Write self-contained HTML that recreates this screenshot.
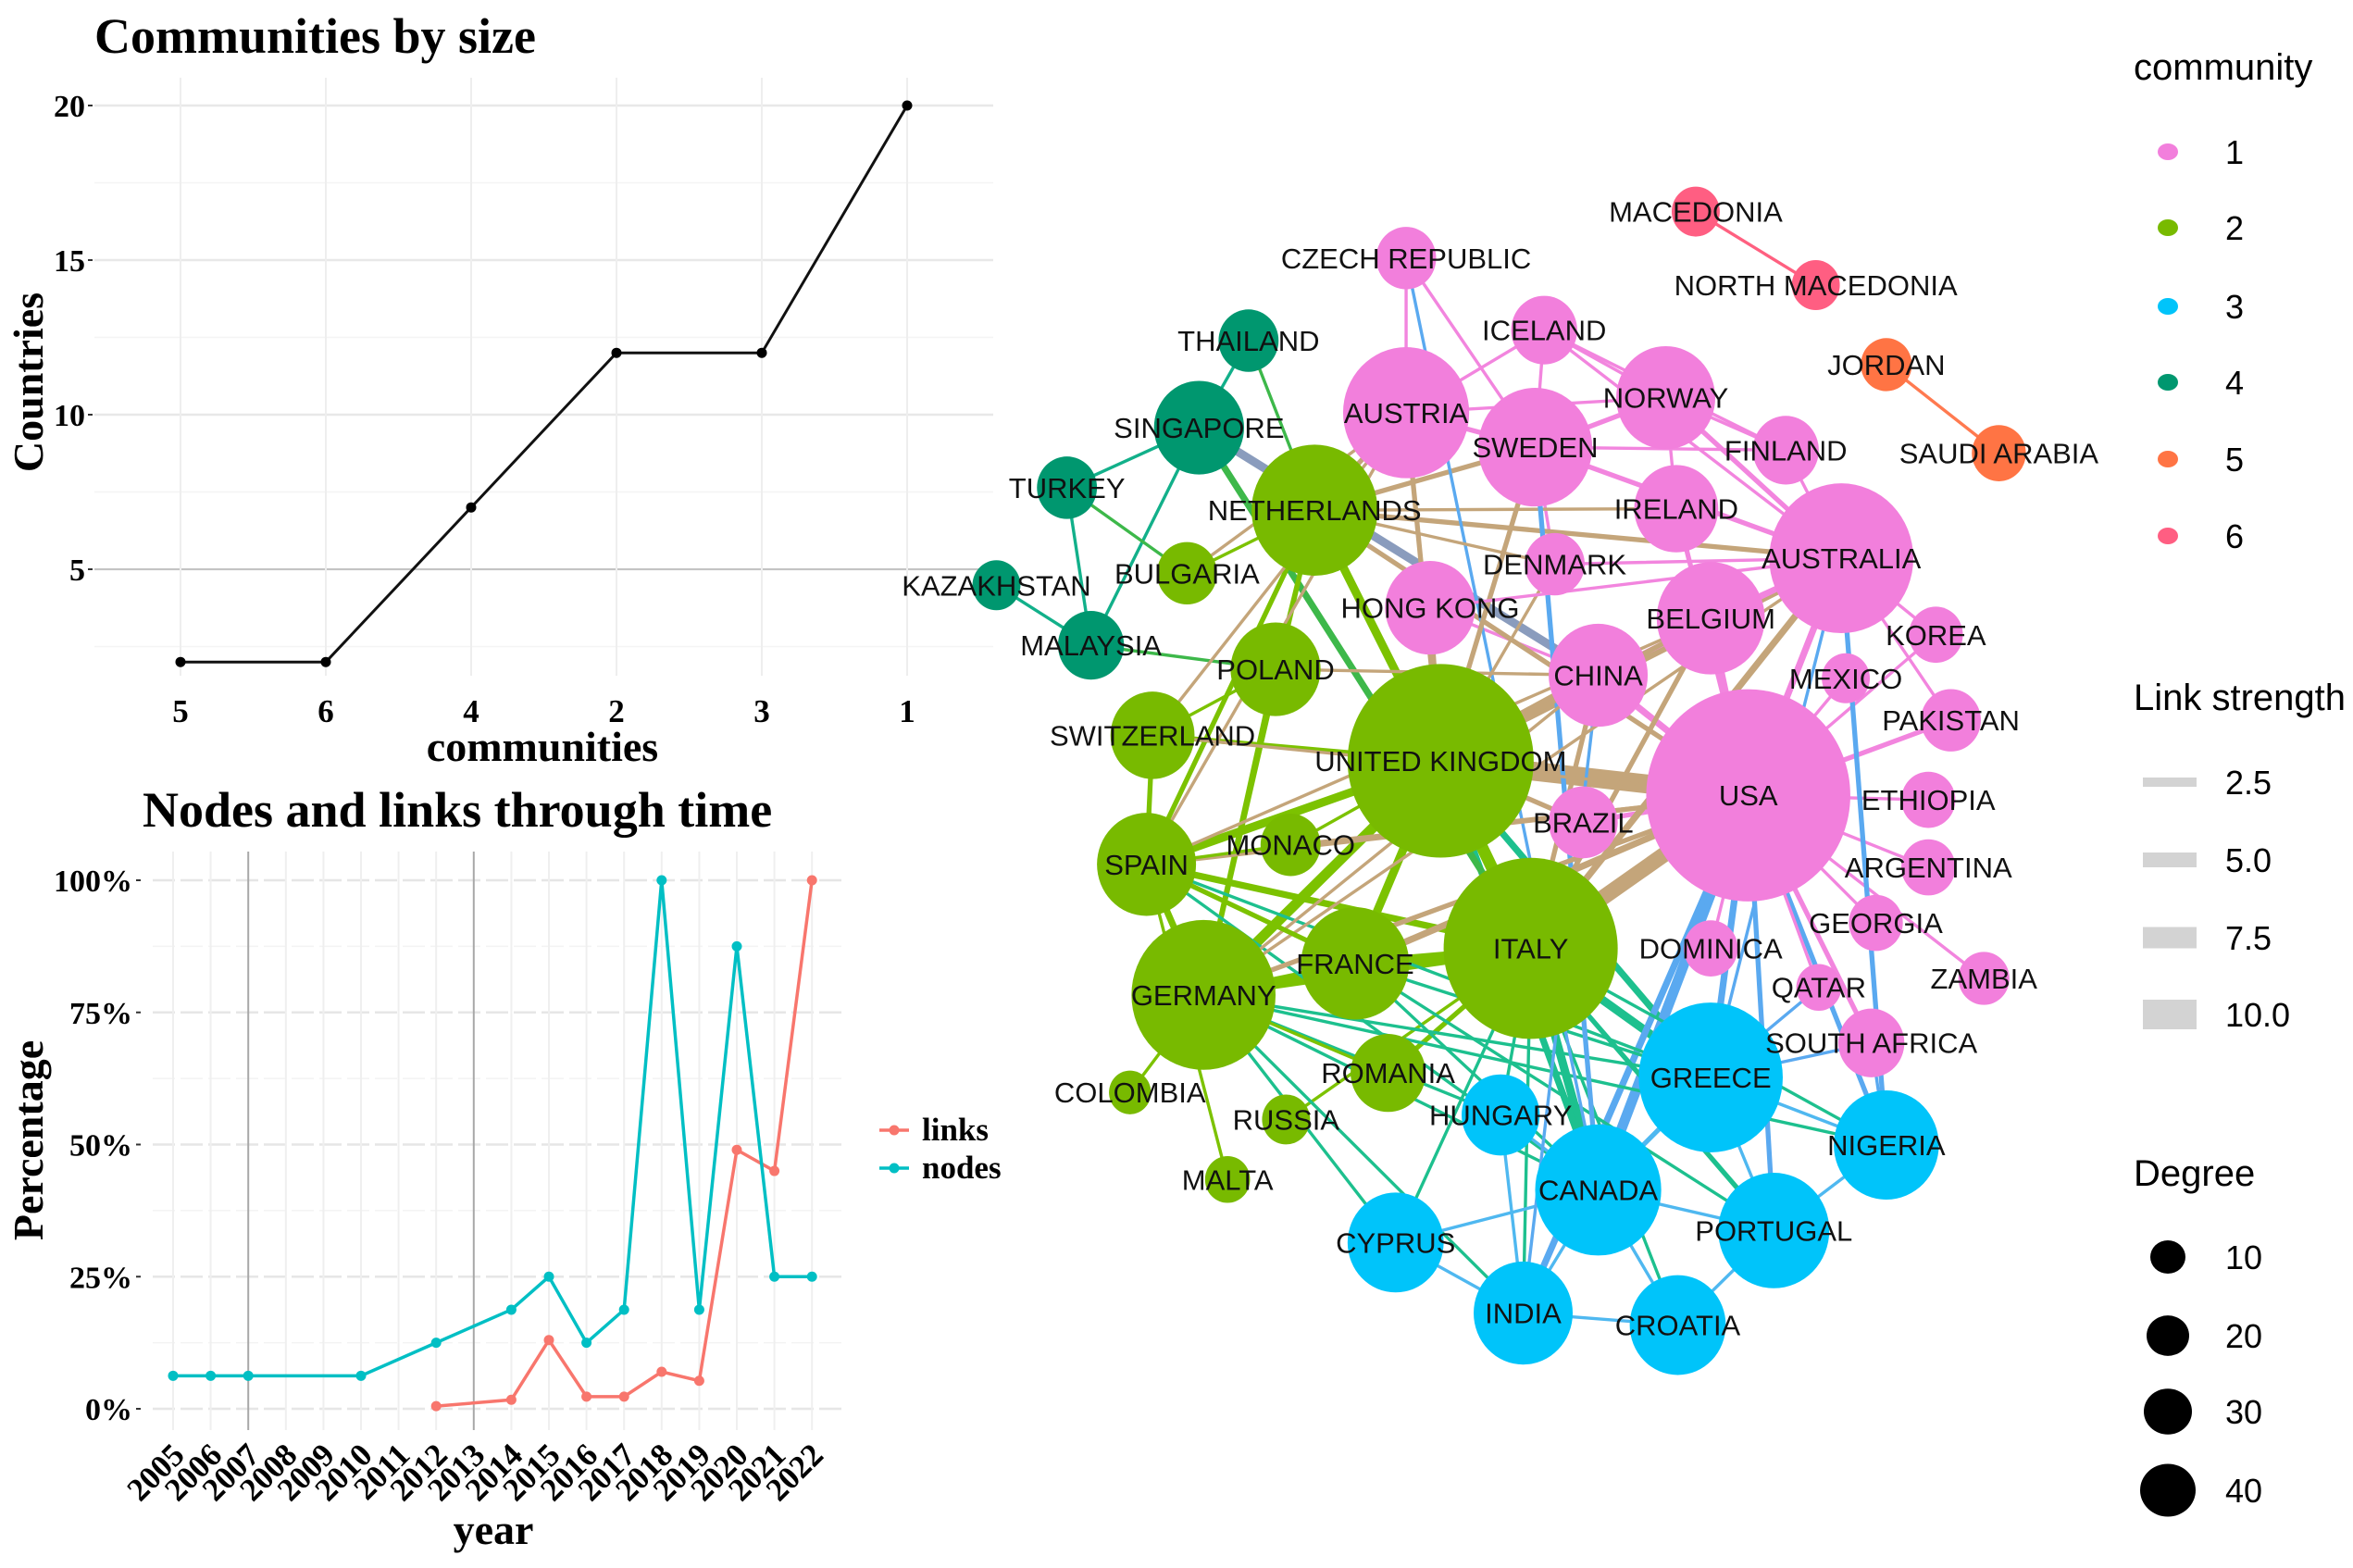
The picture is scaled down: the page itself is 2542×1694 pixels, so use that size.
<!DOCTYPE html>
<html><head><meta charset="utf-8"><style>
html,body{margin:0;padding:0;background:#fff;}
svg{display:block;}
.serif{font-family:"Liberation Serif",serif;font-weight:bold;}
.sans{font-family:"Liberation Sans",sans-serif;}
</style></head><body>
<svg id="root" xmlns="http://www.w3.org/2000/svg" width="2542" height="1694" viewBox="0 0 2542 1694">
<rect width="2542" height="1694" fill="#fff"/>
<g id="c1"></g>
<g id="c2"></g>
<g id="net"></g>
<g id="leg"></g>
</svg>
<script>
// ---------- Chart 1 data ----------
const c1Categories = ["5","6","4","2","3","1"];
const c1Values = [2,2,7,12,12,20];
const c1Ticks = [5,10,15,20];
// ---------- Chart 2 data ----------
const years = [2005,2006,2007,2008,2009,2010,2011,2012,2013,2014,2015,2016,2017,2018,2019,2020,2021,2022];
const nodesYears = [2005,2006,2007,2010,2012,2014,2015,2016,2017,2018,2019,2020,2021,2022];
const nodesPct = [6.25,6.25,6.25,6.25,12.5,18.75,25,12.5,18.75,100,18.75,87.5,25,25];
const linksYears = [2012,2014,2015,2016,2017,2018,2019,2020,2021,2022];
const linksPct = [0.5,1.7,13,2.3,2.3,7,5.3,49,45,100];
const c2Ticks = [0,25,50,75,100];
// ---------- Network data ----------
const netNames = ["CZECH REPUBLIC","ICELAND","AUSTRIA","SWEDEN","NORWAY","FINLAND","IRELAND","DENMARK","HONG KONG","BELGIUM","AUSTRALIA","CHINA","KOREA","MEXICO","PAKISTAN","USA","ETHIOPIA","BRAZIL","ARGENTINA","GEORGIA","DOMINICA","QATAR","ZAMBIA","SOUTH AFRICA",
"NETHERLANDS","BULGARIA","POLAND","SWITZERLAND","UNITED KINGDOM","SPAIN","MONACO","FRANCE","ITALY","GERMANY","ROMANIA","COLOMBIA","RUSSIA","MALTA",
"THAILAND","SINGAPORE","TURKEY","KAZAKHSTAN","MALAYSIA",
"GREECE","HUNGARY","NIGERIA","CANADA","PORTUGAL","CYPRUS","INDIA","CROATIA",
"MACEDONIA","NORTH MACEDONIA","JORDAN","SAUDI ARABIA"];
const netX = [937,1029,937,1023,1110,1190,1117,1036,953,1140,1227,1065,1290,1230,1300,1165,1285,1055,1285,1250,1140,1212,1322,1247,
876,791,850,768,960,764,860,903,1020,802,925,753,857,818,
832,799,711,664,727,
1140,1000,1257,1065,1182,930,1015,1118,
1130,1210,1257,1332];
const netY = [172,220,275,298,265,300,339,376,405,412,372,450,423,452,480,530,533,548,578,615,632,658,652,695,
340,382,446,490,507,576,563,642,632,663,715,728,746,786,
227,285,325,390,430,718,743,763,793,820,828,875,883,
141,190,243,302];
const netComm = [1,1,1,1,1,1,1,1,1,1,1,1,1,1,1,1,1,1,1,1,1,1,1,1,
2,2,2,2,2,2,2,2,2,2,2,2,2,2,
4,4,4,4,4,3,3,3,3,3,3,3,3,6,6,5,5];
const netSize = [20,22,42,38,33,22,28,20,30,36,48,33,18,16,20,68,18,23,18,18,18,15,17,22,
42,20,30,28,62,33,20,36,58,48,25,14,16,15,
20,30,20,16,22,48,26,35,42,37,32,33,32,
16,16,17,18];
const edgeList = "UNITED KINGDOM|USA|10;ITALY|USA|8;UNITED KINGDOM|CHINA|6;UNITED KINGDOM|ITALY|6;UNITED KINGDOM|GERMANY|5;UNITED KINGDOM|SPAIN|4;UNITED KINGDOM|FRANCE|4;UNITED KINGDOM|NETHERLANDS|4;ITALY|GERMANY|4;ITALY|SPAIN|3;ITALY|FRANCE|4;UNITED KINGDOM|AUSTRALIA|4;UNITED KINGDOM|BRAZIL|2;ITALY|CANADA|4;ITALY|GREECE|4;UNITED KINGDOM|GREECE|3;UNITED KINGDOM|CANADA|3;USA|CANADA|5;USA|GREECE|3;USA|INDIA|3;USA|NIGERIA|2;USA|PORTUGAL|2;CHINA|USA|3;AUSTRALIA|USA|3;BELGIUM|USA|2;IRELAND|USA|2;USA|MEXICO|1;USA|PAKISTAN|2;USA|ETHIOPIA|1;USA|ARGENTINA|1;USA|GEORGIA|1;USA|QATAR|1;USA|SOUTH AFRICA|2;USA|ZAMBIA|1;USA|KOREA|1;USA|DOMINICA|1;USA|BRAZIL|2;AUSTRALIA|SWEDEN|2;AUSTRALIA|NORWAY|2;AUSTRALIA|FINLAND|1;AUSTRALIA|ICELAND|1;AUSTRALIA|KOREA|1;AUSTRALIA|PAKISTAN|1;AUSTRALIA|CHINA|2;SWEDEN|NORWAY|2;SWEDEN|FINLAND|1;SWEDEN|ICELAND|1;AUSTRIA|SWEDEN|2;AUSTRIA|NORWAY|1;AUSTRIA|ICELAND|1;AUSTRIA|CZECH REPUBLIC|1;NORWAY|ICELAND|1;NORWAY|FINLAND|1;IRELAND|NORWAY|1;BELGIUM|AUSTRALIA|2;BELGIUM|CHINA|1;HONG KONG|CHINA|1;DENMARK|SWEDEN|1;NETHERLANDS|AUSTRIA|2;NETHERLANDS|SWEDEN|2;NETHERLANDS|AUSTRALIA|2;NETHERLANDS|USA|2;NETHERLANDS|IRELAND|1;SINGAPORE|CHINA|4;SINGAPORE|THAILAND|1;SINGAPORE|TURKEY|1;SINGAPORE|MALAYSIA|1;TURKEY|MALAYSIA|1;KAZAKHSTAN|MALAYSIA|1;TURKEY|BULGARIA|1;THAILAND|NETHERLANDS|1;SINGAPORE|ITALY|3;MALAYSIA|POLAND|1;GERMANY|SPAIN|3;GERMANY|FRANCE|3;GERMANY|POLAND|2;GERMANY|NETHERLANDS|2;SPAIN|SWITZERLAND|2;SPAIN|NETHERLANDS|2;POLAND|NETHERLANDS|1;BULGARIA|NETHERLANDS|1;SWITZERLAND|UNITED KINGDOM|2;MONACO|UNITED KINGDOM|1;ROMANIA|ITALY|2;RUSSIA|ITALY|1;MALTA|SPAIN|1;COLOMBIA|GERMANY|1;GERMANY|CYPRUS|1;GERMANY|HUNGARY|1;GERMANY|CANADA|1;GERMANY|GREECE|1;GERMANY|INDIA|1;GERMANY|NIGERIA|1;SPAIN|CANADA|1;SPAIN|GREECE|1;FRANCE|CANADA|1;FRANCE|GREECE|1;FRANCE|PORTUGAL|1;ITALY|CYPRUS|1;ITALY|INDIA|1;ITALY|CROATIA|1;ITALY|PORTUGAL|2;ITALY|NIGERIA|1;ITALY|HUNGARY|1;CANADA|GREECE|2;CANADA|INDIA|1;CANADA|CROATIA|1;CANADA|PORTUGAL|1;GREECE|NIGERIA|1;GREECE|PORTUGAL|1;INDIA|CROATIA|1;CYPRUS|INDIA|1;CYPRUS|CANADA|1;HUNGARY|CANADA|1;HUNGARY|INDIA|1;PORTUGAL|NIGERIA|1;CROATIA|PORTUGAL|1;NIGERIA|AUSTRALIA|2;GREECE|AUSTRALIA|1;CANADA|SWEDEN|2;INDIA|CHINA|1;CZECH REPUBLIC|CANADA|1;MACEDONIA|NORTH MACEDONIA|1;JORDAN|SAUDI ARABIA|1;UNITED KINGDOM|SWEDEN|2;UNITED KINGDOM|AUSTRIA|2;UNITED KINGDOM|HONG KONG|2;UNITED KINGDOM|DENMARK|1;UNITED KINGDOM|BELGIUM|2;ITALY|CHINA|2;ITALY|BELGIUM|2;ITALY|AUSTRALIA|3;GERMANY|USA|2;GERMANY|CHINA|1;SPAIN|USA|2;FRANCE|USA|3;SPAIN|AUSTRIA|1;SWITZERLAND|AUSTRIA|1;POLAND|CHINA|1;GERMANY|AUSTRALIA|1;SPAIN|BELGIUM|1;MONACO|USA|1;SWITZERLAND|USA|1;BULGARIA|AUSTRIA|1;GREECE|SOUTH AFRICA|1;NIGERIA|SOUTH AFRICA|1;GREECE|QATAR|1;CZECH REPUBLIC|SWEDEN|1;ICELAND|FINLAND|1;NETHERLANDS|DENMARK|1;POLAND|SWITZERLAND|1;MONACO|SPAIN|1;FRANCE|SPAIN|2;ROMANIA|GERMANY|1;HONG KONG|AUSTRALIA|1;DENMARK|AUSTRALIA|1";
const commColors = {1:"#F27FDC",2:"#78BA00",3:"#00C4FA",4:"#00976F",5:"#FF7444",6:"#FF5E82"};
const legendCommunities = ["1","2","3","4","5","6"];
const legendStrength = ["2.5","5.0","7.5","10.0"];
const legendDegree = ["10","20","30","40"];

const NS="http://www.w3.org/2000/svg";
function mk(tag,attrs,parent,text){const e=document.createElementNS(NS,tag);for(const k in attrs)e.setAttribute(k,attrs[k]);if(text!==undefined)e.textContent=text;parent.appendChild(e);return e;}

// ---------- Chart 1 ----------
(function(){
const g=document.getElementById('c1');
const px0=102,px1=1073,py0=84,py1=730;
const xS=i=>195+i*157;
const yS=v=>114+(20-v)*33.4;
const tt=mk('text',{x:102,y:57,class:'serif','font-size':54},g,'Communities by size');


for(let v=2.5;v<=22.5;v+=2.5){if(yS(v)<py0||yS(v)>py1)continue;const l=mk('line',{x1:px0,x2:px1,y1:yS(v),y2:yS(v),stroke:v%5===0?'#e8e8e8':'#f4f4f4','stroke-width':v%5===0?2.5:1.5},g);}
mk('line',{x1:px0,x2:px1,y1:yS(5),y2:yS(5),stroke:'#c4c4c4','stroke-width':2},g);
c1Categories.forEach((c,i)=>{const l=mk('line',{x1:xS(i),x2:xS(i),y1:py0,y2:py1,stroke:'#eeeeee','stroke-width':2},g);
const t=mk('text',{x:xS(i),y:780,'text-anchor':'middle',class:'serif','font-size':35},g,c);});
c1Ticks.forEach(v=>{const t=mk('text',{x:92,y:yS(v)+12,'text-anchor':'end',class:'serif','font-size':34},g,v);
mk('line',{x1:95,x2:100,y1:yS(v),y2:yS(v),stroke:'#333','stroke-width':2},g);});
const pts=c1Values.map((v,i)=>xS(i)+','+yS(v)).join(' ');
const pl=mk('polyline',{points:pts,fill:'none',stroke:'#111','stroke-width':3},g);
c1Values.forEach((v,i)=>{const c=mk('circle',{cx:xS(i),cy:yS(v),r:5.5,fill:'#000'},g);});
const xt=mk('text',{x:586,y:822,'text-anchor':'middle',class:'serif','font-size':46},g,'communities');
const yt=mk('text',{x:0,y:0,'text-anchor':'middle',class:'serif','font-size':46,transform:'translate(46,413) rotate(-90)'},g,'Countries');
})();

// ---------- Chart 2 ----------
(function(){
const g=document.getElementById('c2');
const px0=165,px1=912,py0=920,py1=1545;
const xS=y=>187+(y-2005)*40.6;
const yS=p=>1522-p*5.71;
const tt=mk('text',{x:154,y:893,class:'serif','font-size':54},g,'Nodes and links through time');
for(let p=-12.5;p<=112.5;p+=12.5){if(yS(p)<py0||yS(p)>py1)continue;const l=mk('line',{x1:px0,x2:px1,y1:yS(p),y2:yS(p),stroke:p%25===0?'#e6e6e6':'#f3f3f3','stroke-width':p%25===0?2.5:1.5,'stroke-dasharray':'24 6'},g);}
years.forEach(y=>{const dark=(y===2007||y===2013);const l=mk('line',{x1:xS(y),x2:xS(y),y1:py0,y2:py1,stroke:dark?'#a8a8a8':'#efefef','stroke-width':2},g);
const t=mk('text',{x:0,y:0,'text-anchor':'end',class:'serif','font-size':35,transform:`translate(${xS(y)+14},1574) rotate(-45)`},g,y);});
c2Ticks.forEach(p=>{const t=mk('text',{x:143,y:yS(p)+12,'text-anchor':'end',class:'serif','font-size':34},g,p+'%');
mk('line',{x1:147,x2:152,y1:yS(p),y2:yS(p),stroke:'#333','stroke-width':2},g);});
const lp=mk('polyline',{points:linksYears.map((y,i)=>xS(y)+','+yS(linksPct[i])).join(' '),fill:'none',stroke:'#F8766D','stroke-width':3.5},g);
const np=mk('polyline',{points:nodesYears.map((y,i)=>xS(y)+','+yS(nodesPct[i])).join(' '),fill:'none',stroke:'#00BFC4','stroke-width':3.5},g);
linksYears.forEach((y,i)=>{const c=mk('circle',{cx:xS(y),cy:yS(linksPct[i]),r:5.5,fill:'#F8766D'},g);});
nodesYears.forEach((y,i)=>{const c=mk('circle',{cx:xS(y),cy:yS(nodesPct[i]),r:5.5,fill:'#00BFC4'},g);});
[['links','#F8766D',1221],['nodes','#00BFC4',1262]].forEach(([n,col,y])=>{
const lg=mk('g',{},g);
mk('line',{x1:950,x2:982,y1:y,y2:y,stroke:col,'stroke-width':3.5},lg);mk('circle',{cx:966,cy:y,r:5.5,fill:col},lg);
mk('text',{x:996,y:y+11,class:'serif','font-size':35},lg,n);});
const xt=mk('text',{x:533,y:1668,'text-anchor':'middle',class:'serif','font-size':46},g,'year');
const yt=mk('text',{x:0,y:0,'text-anchor':'middle',class:'serif','font-size':46,transform:'translate(46,1232) rotate(-90)'},g,'Percentage');
})();

// ---------- Network ----------
(function(){
const g=document.getElementById('net');
const S=1.6212;
const idx={};netNames.forEach((n,i)=>idx[n]=i);
const pairCol=(a,b)=>{const k=[a,b].sort().join('');return {'11':'#F285DE','22':'#7CC200','12':'#C4A57A','23':'#1DC08E','13':'#5AA9F0','33':'#4FB8F0','44':'#12B08A','24':'#3DB84A','14':'#8A9CBD','34':'#2AB8A0','55':'#FF7A50','66':'#FF6080'}[k]||'#C4A57A';};
const eg=mk('g',{},g);
edgeList.split(';').forEach(s=>{const [a,b,w]=s.split('|');const i=idx[a],j=idx[b];if(i===undefined||j===undefined)return;
const l=mk('line',{x1:netX[i]*S,y1:netY[i]*S,x2:netX[j]*S,y2:netY[j]*S,stroke:pairCol(netComm[i],netComm[j]),'stroke-width':1.5+(+w)*1.9,'stroke-linecap':'round'},eg);

});
const ng=mk('g',{},g);
netNames.forEach((n,i)=>{const c=mk('ellipse',{cx:netX[i]*S,cy:netY[i]*S,rx:netSize[i]*S,ry:netSize[i]*S*1.04,fill:commColors[netComm[i]]},ng);

});
const lg=mk('g',{},g);
netNames.forEach((n,i)=>{const t=mk('text',{x:netX[i]*S,y:netY[i]*S+11,'text-anchor':'middle',class:'sans','font-size':31,fill:'#111'},lg,n);

});
})();

// ---------- Legend ----------
(function(){
const g=document.getElementById('leg');
const t1=mk('text',{x:2305,y:86,class:'sans','font-size':40},g,'community');
const cy=[164,246,331,413,496,579];
legendCommunities.forEach((c,i)=>{const e=mk('g',{},g);
mk('ellipse',{cx:2342,cy:cy[i],rx:11,ry:9,fill:commColors[c]},e);mk('text',{x:2404,y:cy[i]+13,class:'sans','font-size':36},e,c);});
const t2=mk('text',{x:2305,y:767,class:'sans','font-size':40},g,'Link strength');
const sy=[845,929,1013,1096],sh=[10,16,23,32];
legendStrength.forEach((s,i)=>{const e=mk('g',{},g);
mk('rect',{x:2315,y:sy[i]-sh[i]/2,width:58,height:sh[i],fill:'#d3d3d3'},e);mk('text',{x:2404,y:sy[i]+13,class:'sans','font-size':36},e,s);});
const t3=mk('text',{x:2305,y:1281,class:'sans','font-size':40},g,'Degree');
const dy=[1358,1443,1525,1610],dr=[19,23,26,30];
legendDegree.forEach((d,i)=>{const e=mk('g',{},g);
mk('ellipse',{cx:2342,cy:dy[i],rx:dr[i],ry:dr[i]*0.95,fill:'#000'},e);mk('text',{x:2404,y:dy[i]+13,class:'sans','font-size':36},e,d);});
})();
</script>
</body></html>
